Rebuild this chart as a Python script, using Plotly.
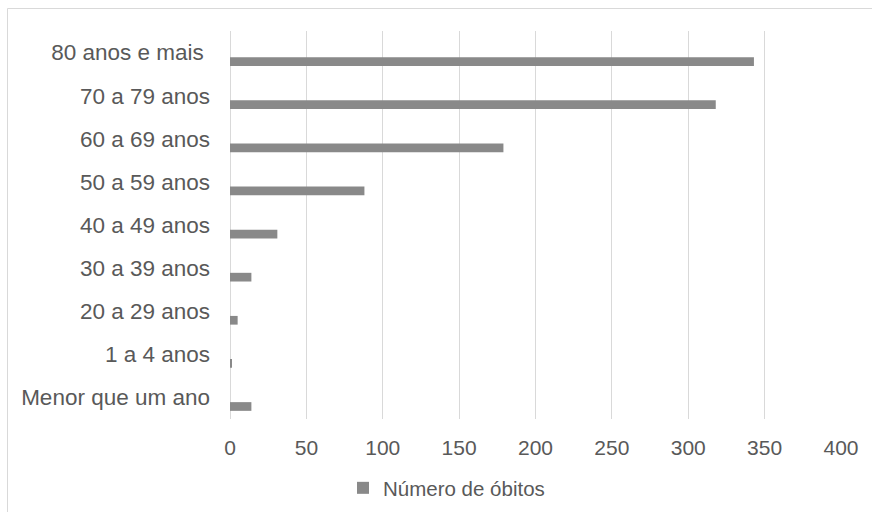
import plotly.graph_objects as go

categories = ["Menor que um ano", "1 a 4 anos", "20 a 29 anos", "30 a 39 anos",
              "40 a 49 anos", "50 a 59 anos", "60 a 69 anos", "70 a 79 anos",
              "80 anos e mais\u00a0"]
obitos = [14, 1, 5, 14, 31, 88, 179, 318, 343]
x_ticks = [0, 50, 100, 150, 200, 250, 300, 350, 400]
series_name = "Número de óbitos"

TEXT = "#595959"
GRID = "#d9d9d9"
BAR = "#898989"
FONT = "Liberation Sans, Arial, sans-serif"

L, R, T, B = 230, 31, 31, 93
W, H = 872, 512
pw, ph = W - L - R, H - T - B

fig = go.Figure()
fig.add_trace(go.Bar(
    x=obitos, y=categories, orientation="h", name=series_name,
    marker=dict(color=BAR, line=dict(width=0)),
    width=0.202, offset=-0.311, showlegend=True,
))

fig.update_layout(
    width=W, height=H,
    margin=dict(l=L, r=R, t=T, b=B, pad=0, autoexpand=False),
    paper_bgcolor="white", plot_bgcolor="white",
    font=dict(family=FONT, size=21, color=TEXT),
    xaxis=dict(range=[0, 400], tickvals=x_ticks, showgrid=True, gridcolor=GRID,
               gridwidth=1, zeroline=True, zerolinecolor=GRID, zerolinewidth=1,
               showline=False, ticks="", ticklabelstandoff=14,
               tickfont=dict(size=21, color=TEXT)),
    yaxis=dict(type="category", categoryorder="array", categoryarray=categories,
               range=[-0.5, 8.5], showgrid=False, zeroline=False, showline=False,
               ticks="", ticklabelstandoff=19, tickfont=dict(size=22.5, color=TEXT)),
    showlegend=True,
    legend=dict(orientation="h", x=(343 - L) / pw, xanchor="left",
                y=-(488 - (T + ph)) / ph, yanchor="middle",
                font=dict(size=20.5, color=TEXT), itemwidth=30,
                bgcolor="rgba(0,0,0,0)"),
    shapes=[dict(type="rect", xref="paper", yref="paper",
                 x0=(7.5 - L) / pw, x1=(W + 20 - L) / pw,
                 y0=-(H + 20 - T - ph) / ph, y1=1 + (T - 8.5) / ph,
                 line=dict(color=GRID, width=1), fillcolor="rgba(0,0,0,0)",
                 layer="below")],
)

fig.write_html("out.html")
